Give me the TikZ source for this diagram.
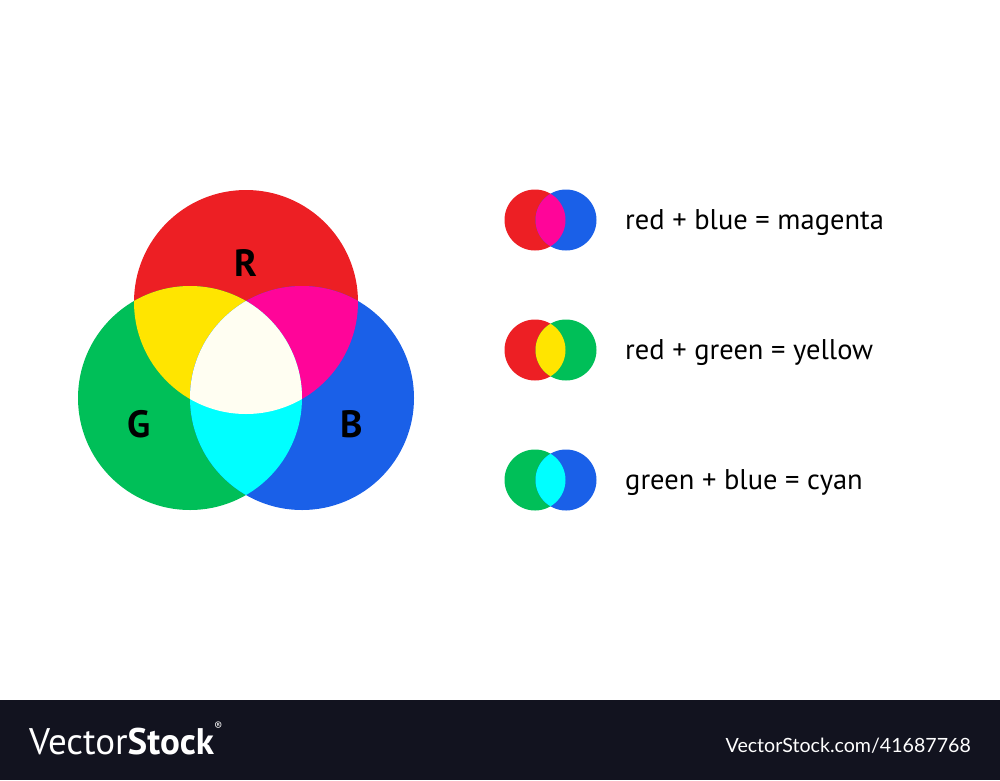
\documentclass[tikz,border=0pt]{standalone}
\usepackage{fontspec}
\setmainfont{PT Sans}
\newfontfamily\urlfont{Lato}
\definecolor{cR}{HTML}{ED1F24}
\definecolor{cG}{HTML}{00BF58}
\definecolor{cB}{HTML}{1A60E8}
\definecolor{cY}{HTML}{FFE500}
\definecolor{cM}{HTML}{FF0599}
\definecolor{cC}{HTML}{00FFFF}
\definecolor{cW}{HTML}{FFFEF2}
\definecolor{band}{HTML}{12131F}
\begin{document}
\begin{tikzpicture}[x=1pt,y=-1pt,
  lbl/.style={anchor=base west,font=\fontsize{28.5}{32}\selectfont,text=black,inner sep=0pt},
  big/.style={font=\fontsize{38}{42}\selectfont\bfseries,text=black,inner sep=0pt}]
\useasboundingbox (0,0) rectangle (1000,780);
\fill[white] (0,0) rectangle (1000,780);
% big Venn
\coordinate (Rc) at (246,302);
\coordinate (Gc) at (190,398);
\coordinate (Bc) at (302,398);
\def\rr{112}
\fill[cR] (Rc) circle (\rr);
\fill[cG] (Gc) circle (\rr);
\fill[cB] (Bc) circle (\rr);
\begin{scope}\clip (Rc) circle (\rr); \fill[cY] (Gc) circle (\rr); \end{scope}
\begin{scope}\clip (Rc) circle (\rr); \fill[cM] (Bc) circle (\rr); \end{scope}
\begin{scope}\clip (Gc) circle (\rr); \fill[cC] (Bc) circle (\rr); \end{scope}
\begin{scope}\clip (Rc) circle (\rr); \clip (Gc) circle (\rr); \fill[cW] (Bc) circle (\rr); \end{scope}
\node[big] (R) at (246,263) {R};
\node[big] (G) at (139,424) {G};
\node[big] (B) at (352,424) {B};
% small pairs
\def\sr{30.5}
\fill[cR] (535,220) circle (\sr);
\fill[cB] (566,220) circle (\sr);
\begin{scope}\clip (535,220) circle (\sr); \fill[cM] (566,220) circle (\sr); \end{scope}
\fill[cR] (535,350) circle (\sr);
\fill[cG] (566,350) circle (\sr);
\begin{scope}\clip (535,350) circle (\sr); \fill[cY] (566,350) circle (\sr); \end{scope}
\fill[cG] (535,480) circle (\sr);
\fill[cB] (566,480) circle (\sr);
\begin{scope}\clip (535,480) circle (\sr); \fill[cC] (566,480) circle (\sr); \end{scope}
\node[lbl] (l1) at (625,229) {red + blue = magenta};
\node[lbl] (l2) at (625,359) {red + green = yellow};
\node[lbl] (l3) at (625,489) {green + blue = cyan};
% band
\fill[band] (0,700) rectangle (1000,780);
\node[anchor=base west,inner sep=0pt,text=white,font=\fontsize{37}{40}\selectfont] (logo) at (29,754)
  {Vector\textbf{Stock}\raisebox{1.25ex}{\fontsize{12}{13}\selectfont\textregistered}};
\node[anchor=base east,inner sep=0pt,text=white,font=\urlfont\fontsize{19.6}{22}\selectfont] (url) at (971,752.5)
  {VectorStock.com/41687768};
\end{tikzpicture}
\end{document}
